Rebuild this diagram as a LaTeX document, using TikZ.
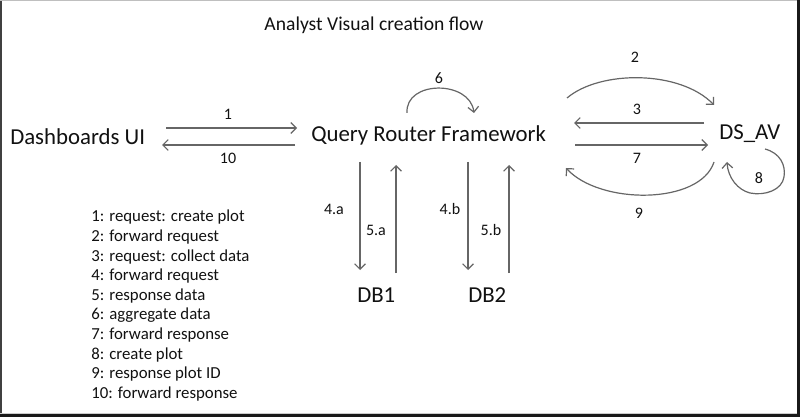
\documentclass[tikz,border=0pt]{standalone}
\usepackage{fontspec}
\setmainfont{Carlito}
\usetikzlibrary{arrows.meta}
\definecolor{txt}{HTML}{111111}
\definecolor{lin}{HTML}{666666}
\begin{document}
\begin{tikzpicture}[x=0.75pt,y=-0.75pt,
  big/.style={inner sep=0pt,anchor=base west,text=txt,font=\fontsize{17.1}{20}\selectfont},
  num/.style={inner sep=0pt,text=txt,font=\fontsize{12}{14}\selectfont},
  legend/.style={inner sep=0pt,anchor=base west,text=txt,font=\fontsize{12.6}{15}\selectfont},
  arr/.style={draw=lin,line width=0.9pt,-{Straight Barb[length=4pt,width=8pt,line width=0.9pt]}}]
\useasboundingbox (0,0) rectangle (800,417);
\fill[white] (0,0) rectangle (800,417);
% frame
\fill[black!75] (0,0) rectangle (1.5,417);
\fill[black!25] (0,0) rectangle (800,1);
\fill[black!90] (797,0) rectangle (800,417);
\fill[black!90] (0,414) rectangle (800,417);
\fill[black!20] (0,412.5) rectangle (797,414);

% title
\node[inner sep=0pt,anchor=base,text=txt,font=\fontsize{14.7}{17}\selectfont] (title) at (374,31) {Analyst Visual creation flow};

% main nodes
\node[big] (dash) at (10,145) {Dashboards UI};
\node[big] (qrf) at (311,142) {Query Router Framework};
\node[big] (dsav) at (719,140) {DS\_AV};
\node[big] (db1) at (357,302) {DB1};
\node[big] (db2) at (468,302) {DB2};

% connector end points
\coordinate (d1s) at (166,128);  \coordinate (d1e) at (297,128);
\coordinate (d10s) at (295,145); \coordinate (d10e) at (162,145);
\coordinate (q6s) at (407,113);  \coordinate (q6e) at (474,113);
\coordinate (q2s) at (567,98);   \coordinate (a2e) at (714,105);
\coordinate (a3s) at (704,123);  \coordinate (q3e) at (574,123);
\coordinate (q7s) at (575,145);  \coordinate (a7e) at (708,145);
\coordinate (a9s) at (714,162);  \coordinate (q9e) at (566,168);
\coordinate (a8s) at (765,149);  \coordinate (a8e) at (727,162);
\coordinate (q4a) at (360,162);  \coordinate (b4a) at (360,270);
\coordinate (b5a) at (396,273);  \coordinate (q5a) at (396,165);
\coordinate (q4b) at (468,162);  \coordinate (b4b) at (468,270);
\coordinate (b5b) at (509,273);  \coordinate (q5b) at (509,165);

% connectors
\draw[arr] (d1s) -- (d1e);
\draw[arr] (d10s) -- (d10e);
\draw[arr] (q6s) .. controls (405,80) and (470,80) .. (q6e);
\draw[arr] (q2s) .. controls (600,70) and (680,70) .. (a2e);
\draw[arr] (a3s) -- (q3e);
\draw[arr] (q7s) -- (a7e);
\draw[arr] (a9s) .. controls (700,205) and (600,205) .. (q9e);
\draw[arr] (a8s) .. controls (780,153) and (786,165) .. (784,177)
  .. controls (782,190) and (765,196) .. (750,193)
  .. controls (738,190) and (728,178) .. (a8e);
\draw[arr] (q4a) -- (b4a);
\draw[arr] (b5a) -- (q5a);
\draw[arr] (q4b) -- (b4b);
\draw[arr] (b5b) -- (q5b);

% connector labels
\node[num] (l1) at (228,114) {1};
\node[num] (l10) at (228,158) {10};
\node[num] (l6) at (439,78) {6};
\node[num] (l2) at (635,57) {2};
\node[num] (l3) at (637,109) {3};
\node[num] (l7) at (637,158) {7};
\node[num] (l9) at (639,213) {9};
\node[num] (l8) at (759,178) {8};
\node[num] (l4a) at (334,209) {4.a};
\node[num] (l5a) at (376,230) {5.a};
\node[num] (l4b) at (450,209) {4.b};
\node[num] (l5b) at (491,230) {5.b};

% legend
\foreach \t [count=\i] in {1: request: create plot,2: forward request,3: request: collect data,4: forward request,5: response data,6: aggregate data,7: forward response,8: create plot,9: response plot ID,10: forward response}
  \node[legend] (leg\i) at (91,{222+(\i-1)*19.6}) {\t};
\end{tikzpicture}
\end{document}
